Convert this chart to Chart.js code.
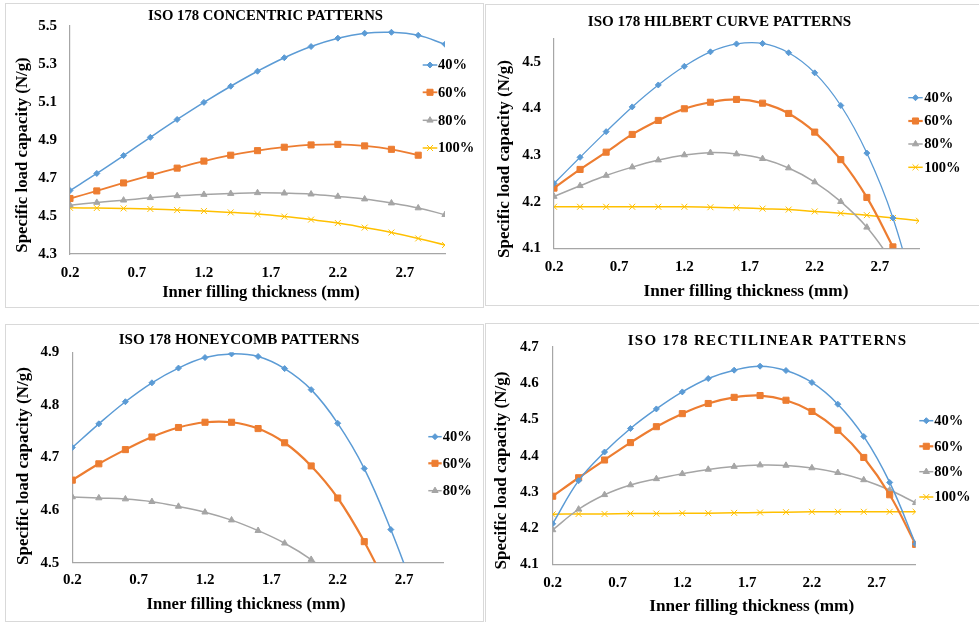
<!DOCTYPE html>
<html><head><meta charset="utf-8">
<script src="https://cdn.jsdelivr.net/npm/chart.js@4.4.0/dist/chart.umd.min.js"></script>
<style>
html,body{margin:0;padding:0;background:#fff;}
body{width:979px;height:622px;position:relative;overflow:hidden;}
.panel{position:absolute;border:1px solid #d9d9d9;box-sizing:border-box;}
canvas{position:absolute;}
</style></head><body>
<div class="panel" style="left:5px;top:3px;width:479px;height:305px"></div>
<div class="panel" style="left:485px;top:4px;width:500px;height:302px"></div>
<div class="panel" style="left:5px;top:324px;width:479px;height:298px"></div>
<div class="panel" style="left:485px;top:323px;width:500px;height:300px"></div>
<canvas id="c1" width="476" height="302" style="left:6px;top:4px"></canvas>
<canvas id="c2" width="493" height="299" style="left:486px;top:5px"></canvas>
<canvas id="c3" width="476" height="295" style="left:6px;top:325px"></canvas>
<canvas id="c4" width="493" height="297" style="left:486px;top:324px"></canvas>
<script>
// ---------- data ----------
const xValues = [0.2,0.4,0.6,0.8,1.0,1.2,1.4,1.6,1.8,2.0,2.2,2.4,2.6,2.8,3.0];
const xTickValues = [0.2,0.7,1.2,1.7,2.2,2.7];
const seriesNames = ['40%','60%','80%','100%'];
const xAxisTitle = 'Inner filling thickness (mm)';
const yAxisTitle = 'Specific load capacity (N/g)';

const concentricTitle = 'ISO 178 CONCENTRIC PATTERNS';
const concentric40  = [4.634,4.724,4.818,4.914,5.008,5.098,5.183,5.262,5.333,5.392,5.436,5.462,5.467,5.451,5.404];
const concentric60  = [4.592,4.632,4.674,4.714,4.752,4.789,4.820,4.844,4.862,4.874,4.877,4.869,4.851,4.820,null];
const concentric80  = [4.557,4.571,4.583,4.596,4.606,4.613,4.618,4.622,4.620,4.615,4.603,4.589,4.568,4.542,4.507];
const concentric100 = [4.543,4.542,4.540,4.537,4.531,4.526,4.519,4.510,4.497,4.481,4.463,4.439,4.413,4.382,4.347];
const concentricYTicks = [4.3,4.5,4.7,4.9,5.1,5.3,5.5];

const hilbertTitle = 'ISO 178 HILBERT CURVE PATTERNS';
const hilbert40  = [4.239,4.295,4.350,4.403,4.450,4.490,4.521,4.538,4.539,4.519,4.476,4.406,4.304,4.165,3.97];
const hilbert60  = [4.229,4.269,4.306,4.344,4.374,4.399,4.413,4.419,4.411,4.389,4.349,4.290,4.209,4.103,null];
const hilbert80  = [4.211,4.234,4.256,4.274,4.289,4.300,4.305,4.302,4.292,4.272,4.242,4.200,4.145,4.07,null];
const hilbert100 = [4.189,4.189,4.189,4.189,4.189,4.189,4.188,4.187,4.185,4.183,4.179,4.175,4.171,4.165,4.159];
const hilbertYTicks = [4.1,4.2,4.3,4.4,4.5];

const honeycombTitle = 'ISO 178 HONEYCOMB PATTERNS';
const honeycomb40 = [4.719,4.764,4.806,4.842,4.870,4.890,4.897,4.892,4.869,4.829,4.765,4.679,4.563,4.43,null];
const honeycomb60 = [4.657,4.688,4.715,4.739,4.757,4.767,4.767,4.755,4.728,4.684,4.623,4.540,4.44,null,null];
const honeycomb80 = [4.625,4.623,4.621,4.616,4.607,4.596,4.581,4.561,4.537,4.506,4.466,null,null,null,null];
const honeycombYTicks = [4.5,4.6,4.7,4.8,4.9];

const rectilinearTitle = 'ISO 178 RECTILINEAR PATTERNS';
const rectilinear40  = [4.212,4.331,4.410,4.475,4.529,4.576,4.613,4.636,4.647,4.635,4.602,4.542,4.453,4.326,4.156];
const rectilinear60  = [4.288,4.339,4.388,4.436,4.480,4.516,4.544,4.561,4.566,4.553,4.522,4.470,4.395,4.292,4.155];
const rectilinear80  = [4.195,4.252,4.292,4.319,4.336,4.350,4.362,4.370,4.374,4.373,4.366,4.353,4.333,4.305,4.270];
const rectilinear100 = [4.238,4.239,4.239,4.240,4.240,4.241,4.241,4.242,4.243,4.244,4.245,4.245,4.245,4.245,4.245];
const rectilinearYTicks = [4.1,4.2,4.3,4.4,4.5,4.6,4.7];

// ---------- styles ----------
const seriesColors = ['#5B9BD5','#ED7D31','#A5A5A5','#FFC000'];
const seriesPointStyles = ['rectRot','rect','triangle','crossRot'];
const seriesPointRadii = [3,4.3,3.6,4.2];
const FONT = "'Liberation Serif','Times New Roman',serif";
const AXIS_COLOR = '#A6A6A6';

function textPlugin(s) {
  return {
    id: 'panelText',
    afterDraw(chart) {
      const ctx = chart.ctx;
      ctx.save();
      ctx.fillStyle = '#000';
      ctx.textBaseline = 'middle';
      ctx.textAlign = 'center';
      // title
      ctx.font = 'bold ' + s.titleSize + 'px ' + FONT;
      ctx.letterSpacing = (s.titleSpacing || 0) + 'px';
      ctx.fillText(s.title, s.titlePos[0], s.titlePos[1]);
      ctx.letterSpacing = '0px';
      // x axis title
      ctx.font = 'bold ' + s.axisTitleSize[0] + 'px ' + FONT;
      ctx.fillText(xAxisTitle, s.xTitlePos[0], s.xTitlePos[1]);
      // y axis title
      ctx.font = 'bold ' + s.axisTitleSize[1] + 'px ' + FONT;
      ctx.save();
      ctx.translate(s.yTitlePos[0], s.yTitlePos[1]);
      ctx.rotate(-Math.PI / 2);
      ctx.fillText(yAxisTitle, 0, 0);
      ctx.restore();
      // legend
      const lg = s.legend;
      chart.data.datasets.forEach((ds, i) => {
        const y = lg.ys[i];
        ctx.strokeStyle = ds.borderColor;
        ctx.fillStyle = ds.borderColor;
        ctx.lineWidth = ds.borderWidth;
        ctx.beginPath();
        ctx.moveTo(lg.x0, y); ctx.lineTo(lg.x1, y); ctx.stroke();
        ctx.lineWidth = 1;
        Chart.helpers.drawPoint(ctx, {pointStyle: ds.pointStyle, radius: ds.pointRadius, rotation: 0, borderWidth: 1}, (lg.x0 + lg.x1) / 2, y);
        ctx.fillStyle = '#000';
        ctx.textAlign = 'left';
        ctx.font = 'bold 14.5px ' + FONT;
        ctx.fillText(ds.label, lg.tx, y + 0.5);
      });
      ctx.restore();
    }
  };
}

function makeChart(id, series, yTicks, yMin, yMax, s) {
  const canvas = document.getElementById(id);
  const W = canvas.width, H = canvas.height;
  const xAxisH = 30;
  const datasets = series.map((vals, i) => ({
    label: seriesNames[i],
    data: xValues.map((x, j) => ({x: x, y: vals[j]})),
    borderColor: seriesColors[i],
    backgroundColor: seriesColors[i],
    borderWidth: s.lineWidths[i],
    pointStyle: seriesPointStyles[i],
    pointRadius: seriesPointRadii[i],
    pointBorderWidth: 1,
    tension: 0.4,
    capBezierPoints: false,
    spanGaps: false
  }));
  return new Chart(canvas, {
    type: 'line',
    data: {datasets},
    options: {
      responsive: false,
      animation: false,
      events: [],
      layout: {padding: {left: 0, top: s.area.T, right: W - s.area.R, bottom: H - s.area.B - xAxisH}},
      plugins: {legend: {display: false}, title: {display: false}, tooltip: {enabled: false}},
      elements: {line: {capBezierPoints: false}},
      scales: {
        x: {
          type: 'linear', min: 0.2, max: 3.0,
          afterBuildTicks: (ax) => { ax.ticks = xTickValues.map(v => ({value: v})); },
          afterFit: (ax) => { ax.height = xAxisH; },
          grid: {display: false, drawTicks: false},
          border: {display: true, color: AXIS_COLOR, width: 1.2},
          ticks: {padding: s.xTickPad, color: '#000', font: {family: FONT, size: 15, weight: 'bold'}, maxRotation: 0, autoSkip: false, callback: v => Number(v).toFixed(1)}
        },
        y: {
          type: 'linear', min: yMin, max: yMax,
          afterBuildTicks: (ax) => { ax.ticks = yTicks.map(v => ({value: v})); },
          afterFit: (ax) => { ax.width = s.area.L; },
          grid: {display: false, drawTicks: false},
          border: {display: true, color: AXIS_COLOR, width: 1.2},
          ticks: {padding: s.yTickPad, color: '#000', font: {family: FONT, size: 15, weight: 'bold'}, autoSkip: false, callback: v => Number(v).toFixed(1)}
        }
      }
    },
    plugins: [textPlugin(s)]
  });
}

makeChart('c1', [concentric40, concentric60, concentric80, concentric100], concentricYTicks, 4.3, 5.5, {
  area: {L: 64, R: 439, T: 19.3, B: 250},
  xTickPad: 10, yTickPad: 13,
  lineWidths: [1.5, 1.8, 1.5, 1.5],
  title: concentricTitle, titleSize: 14.7, titlePos: [259.5, 12.7],
  axisTitleSize: [16.6, 16.8], xTitlePos: [255, 289], yTitlePos: [17, 151],
  legend: {x0: 416.7, x1: 431.3, tx: 432, ys: [61, 88.3, 116.3, 144]}
});
makeChart('c2', [hilbert40, hilbert60, hilbert80, hilbert100], hilbertYTicks, 4.1, 4.55, {
  area: {L: 68, R: 433, T: 33.3, B: 243.3},
  xTickPad: 9.4, yTickPad: 13,
  lineWidths: [1.3, 2.2, 1.5, 1.5],
  title: hilbertTitle, titleSize: 15.1, titlePos: [233.5, 16.7],
  axisTitleSize: [17.2, 17], xTitlePos: [260, 286.7], yTitlePos: [19, 154],
  legend: {x0: 422.3, x1: 436.7, tx: 438.3, ys: [92.7, 116, 139, 162.3]}
});
makeChart('c3', [honeycomb40, honeycomb60, honeycomb80], honeycombYTicks, 4.5, 4.9, {
  area: {L: 66.3, R: 437.9, T: 27.3, B: 237.7},
  xTickPad: 8.3, yTickPad: 13,
  lineWidths: [1.5, 2.2, 1.5],
  title: honeycombTitle, titleSize: 15.1, titlePos: [233, 15],
  axisTitleSize: [16.7, 17], xTitlePos: [240, 280], yTitlePos: [18, 141],
  legend: {x0: 422.3, x1: 435.7, tx: 436.7, ys: [111.7, 138.3, 165.7]}
});
makeChart('c4', [rectilinear40, rectilinear60, rectilinear80, rectilinear100], rectilinearYTicks, 4.1, 4.7, {
  area: {L: 66.7, R: 429.6, T: 21, B: 240.3},
  xTickPad: 10, yTickPad: 14,
  lineWidths: [1.5, 2.2, 1.5, 1.5],
  title: rectilinearTitle, titleSize: 15, titleSpacing: 1.3, titlePos: [281.5, 16.7],
  axisTitleSize: [17.2, 17], xTitlePos: [265.7, 282.7], yTitlePos: [15.7, 146.5],
  legend: {x0: 433.3, x1: 447.3, tx: 448.3, ys: [96.7, 122.3, 147.7, 173]}
});
</script>
</body></html>
